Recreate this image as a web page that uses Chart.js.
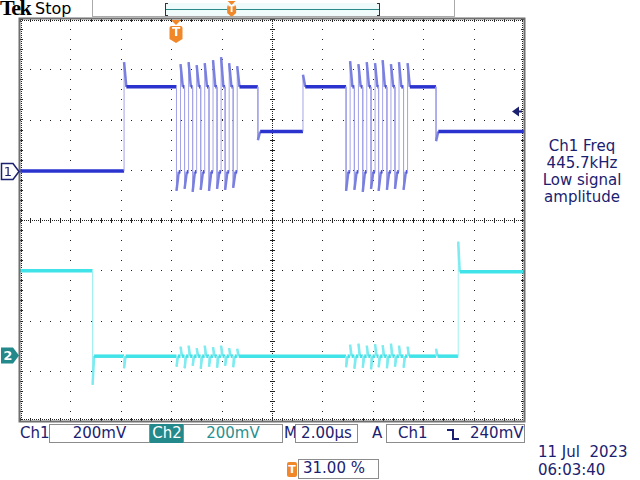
<!DOCTYPE html>
<html>
<head>
<meta charset="utf-8">
<script src="https://cdn.jsdelivr.net/npm/chart.js@4.4.0/dist/chart.umd.min.js"></script>
<style>
  body { margin: 0; width: 640px; height: 480px; overflow: hidden; position: relative; background: #fff; font-family: 'DejaVu Sans', sans-serif; }
  #scope { position: absolute; left: 0; top: 0; z-index: 2; }
  .t { position: absolute; white-space: pre; font-size: 15px; line-height: 19px; color: #1b2170; }
  .box { position: absolute; top: 424px; height: 19px; border: 1px solid #8c8c8c; box-sizing: border-box; }
</style>
</head>
<body>
<canvas id="scope" width="640" height="480"></canvas>

<!-- barre du haut -->
<div class="t" style="left:0;top:-3px;font-family:'Liberation Serif',serif;font-weight:bold;font-size:22px;line-height:22px;letter-spacing:-1.5px;color:#000;">Tek</div>
<div class="t" style="left:35px;top:-1px;font-size:16px;color:#000;">Stop</div>
<div style="position:absolute;left:92px;top:0;width:361px;height:16px;border:1px solid #aaa;border-top:none;"></div>
<div style="position:absolute;left:165px;top:3px;width:215px;height:13px;background:#effbfb;border-left:1px solid #333;border-right:1px solid #333;box-sizing:border-box;"></div>
<div style="position:absolute;left:165px;top:3px;width:3px;height:1px;background:#333;"></div>
<div style="position:absolute;left:165px;top:15px;width:3px;height:1px;background:#333;"></div>
<div style="position:absolute;left:377px;top:3px;width:3px;height:1px;background:#333;"></div>
<div style="position:absolute;left:377px;top:15px;width:3px;height:1px;background:#333;"></div>
<div style="position:absolute;left:166px;top:9px;width:213px;height:1px;background:#2b8a8a;"></div>

<!-- mesure à droite -->
<div class="t" style="left:524px;top:138px;width:116px;text-align:center;line-height:17px;">Ch1 Freq
445.7kHz
Low signal
amplitude</div>

<!-- barre d'état -->
<div class="t" style="left:20px;top:424px;">Ch1</div>
<div class="box" style="left:49px;width:101px;"></div>
<div class="t" style="left:49px;top:424px;width:101px;text-align:center;">200mV</div>
<div class="t" style="left:150px;top:424px;width:34px;height:19px;text-align:center;background:#23898b;color:#fff;">Ch2</div>
<div class="box" style="left:183px;width:100px;"></div>
<div class="t" style="left:183px;top:424px;width:100px;text-align:center;color:#2a9090;">200mV</div>
<div class="t" style="left:284px;top:424px;">M</div>
<div class="box" style="left:295px;width:63px;"></div>
<div class="t" style="left:295px;top:424px;width:63px;text-align:center;">2.00µs</div>
<div class="t" style="left:372px;top:424px;">A</div>
<div class="box" style="left:386px;width:139px;"></div>
<div class="t" style="left:398px;top:424px;">Ch1</div>
<div style="position:absolute;left:447px;top:429px;width:5px;height:9px;border-top:2px solid #1b2170;border-right:2px solid #1b2170;"></div>
<div style="position:absolute;left:454px;top:438px;width:5px;height:2px;background:#1b2170;"></div>
<div class="t" style="left:470px;top:424px;">240mV</div>

<div class="t" style="left:538px;top:443px;">11 Jul  2023</div>
<div class="t" style="left:538px;top:461px;">06:03:40</div>

<div class="t" style="left:287px;top:462px;width:10px;height:15px;line-height:15px;font-size:11px;font-weight:bold;text-align:center;background:#f0882a;color:#fff;border-radius:2px;">T</div>
<div class="box" style="left:298px;top:459px;width:81px;height:20px;"></div>
<div class="t" style="left:303px;top:459px;">31.00 %</div>

<script>
// axe des temps en µs (2 µs/div), axe vertical en divisions
const timeMin = 0;
const timeMax = 20;
const divMin = -4;
const divMax = 4;

// Voie 1 : niveau de départ puis chaque front (instant, pic, niveau stable)
const ch1Start = 0.975;
const ch1EdgeTimes = [4.13,
  6.21, 6.37, 6.53, 6.69, 6.85, 7.01, 7.17, 7.33, 7.50, 7.66, 7.82, 7.98, 8.14, 8.30, 8.46, 8.62,
  9.44, 11.23,
  12.94, 13.10, 13.27, 13.43, 13.60, 13.76, 13.93, 14.09, 14.23, 14.39, 14.56, 14.72, 14.88, 15.04, 15.22, 15.38,
  16.51];
const ch1EdgePeaks = [3.14,
  0.58, 3.10, 0.62, 3.14, 0.56, 3.08, 0.60, 3.12, 0.58, 3.18, 0.62, 3.24, 0.60, 3.12, 0.64, 3.06,
  1.59, 2.89,
  0.58, 3.16, 0.60, 3.10, 0.56, 3.14, 0.62, 3.12, 0.58, 3.18, 0.60, 3.10, 0.62, 3.14, 0.60, 3.12,
  1.57];
const ch1EdgeLevels = [2.65,
  0.96, 2.65, 0.96, 2.65, 0.96, 2.65, 0.96, 2.65, 0.96, 2.65, 0.96, 2.65, 0.96, 2.65, 0.96, 2.65,
  1.76, 2.65,
  0.96, 2.65, 0.96, 2.65, 0.96, 2.65, 0.96, 2.65, 0.96, 2.65, 0.96, 2.65, 0.96, 2.65, 0.96, 2.65,
  1.76];

// Voie 2 : fronts propres + diaphonie pendant les salves de la voie 1
const ch2Start = -1.01;
const ch2EdgeTimes = [2.88, 4.13,
  6.21, 6.37, 6.53, 6.69, 6.85, 7.01, 7.17, 7.33, 7.50, 7.66, 7.82, 7.98, 8.14, 8.30, 8.46, 8.62,
  12.94, 13.10, 13.27, 13.43, 13.60, 13.76, 13.93, 14.09, 14.23, 14.39, 14.56, 14.72, 14.88, 15.04, 15.22, 15.38,
  16.51, 17.39];
const ch2EdgePeaks = [-3.28, -2.95,
  -2.92, -2.52, -2.95, -2.50, -2.90, -2.55, -2.96, -2.50, -2.92, -2.53, -2.94, -2.50, -2.90, -2.55, -2.93, -2.56,
  -2.93, -2.48, -2.96, -2.46, -2.94, -2.50, -2.97, -2.47, -2.93, -2.49, -2.95, -2.46, -2.92, -2.50, -2.94, -2.52,
  -2.56, -0.43];
const ch2EdgeLevels = [-2.71, -2.71,
  -2.71, -2.71, -2.71, -2.71, -2.71, -2.71, -2.71, -2.71, -2.71, -2.71, -2.71, -2.71, -2.71, -2.71, -2.71, -2.71,
  -2.71, -2.71, -2.71, -2.71, -2.71, -2.71, -2.71, -2.71, -2.71, -2.71, -2.71, -2.71, -2.71, -2.71, -2.71, -2.71,
  -2.71, -1.03];

// marqueurs
const ch1Ground = 0.975;
const ch2Ground = -2.69;
const triggerLevelMv = 240;
const voltsPerDivMv = 200;
const triggerPercent = 31;

const NAVY = '#1b2170', ORANGE = '#f0882a', TEAL = '#23898b';

function construireTrace(depart, instants, pics, niveaux, stabilisation) {
  const pts = [{ x: timeMin, y: depart }];
  let avant = depart;
  instants.forEach((t, i) => {
    pts.push({ x: t, y: avant }, { x: t, y: pics[i] }, { x: t + stabilisation, y: niveaux[i] });
    avant = niveaux[i];
  });
  pts.push({ x: timeMax, y: avant });
  return pts;
}

// intensité façon écran : paliers épais, fronts fins et pâles, salves un peu plus claires
function styleTrace(principal, salve, front, anneau) {
  const vertical = c => c.p0.parsed.x === c.p1.parsed.x;
  const palier = c => c.p0.parsed.y === c.p1.parsed.y;
  const court = c => (c.p1.parsed.x - c.p0.parsed.x) < 0.2;
  return {
    borderColor: c => vertical(c) ? front : (!palier(c) ? anneau : (court(c) ? salve : principal)),
    borderWidth: c => vertical(c) ? 1 : (!palier(c) ? 2.5 : 3.5)
  };
}

const cadreScope = {
  id: 'cadreScope',
  beforeDatasetsDraw(chart) {
    const { ctx, chartArea: a, scales: { x, y } } = chart;
    const cx = Math.round(x.getPixelForValue((timeMin + timeMax) / 2));
    const cy = Math.round(y.getPixelForValue(0));
    const pasX = (x.getPixelForValue(2) - x.getPixelForValue(0)) / 5;
    const pasY = (y.getPixelForValue(0) - y.getPixelForValue(1)) / 5;
    ctx.save();
    ctx.fillStyle = '#222';
    // grille pointillée
    x.ticks.forEach(tk => {
      if (tk.value === timeMin || tk.value === timeMax || tk.value === (timeMin + timeMax) / 2) return;
      const px = Math.round(x.getPixelForValue(tk.value));
      for (let py = a.top; py <= a.bottom + 0.5; py += pasY) ctx.fillRect(px, Math.round(py), 1, 1);
    });
    y.ticks.forEach(tk => {
      if (tk.value === divMin || tk.value === divMax || tk.value === 0) return;
      const py = Math.round(y.getPixelForValue(tk.value));
      for (let px = a.left; px <= a.right + 0.5; px += pasX) ctx.fillRect(Math.round(px), py, 1, 1);
    });
    // croix centrale, pointillé serré
    for (let px = a.left; px < a.right; px += 2) ctx.fillRect(px, cy, 1, 1);
    for (let py = a.top; py < a.bottom; py += 2) ctx.fillRect(cx, py, 1, 1);
    for (let px = a.left; px <= a.right + 0.5; px += pasX) ctx.fillRect(Math.round(px), cy - 2, 1, 5);
    for (let py = a.top; py <= a.bottom + 0.5; py += pasY) ctx.fillRect(cx - 2, Math.round(py), 5, 1);
    // graduations du cadre
    for (let px = a.left; px <= a.right + 0.5; px += pasX) {
      ctx.fillRect(Math.round(px), a.top, 1, 3);
      ctx.fillRect(Math.round(px), a.bottom - 3, 1, 3);
    }
    for (let py = a.top; py <= a.bottom + 0.5; py += pasY) {
      ctx.fillRect(a.left, Math.round(py), 3, 1);
      ctx.fillRect(a.right - 3, Math.round(py), 3, 1);
    }
    for (let px = a.left; px < a.right; px += 2) {
      ctx.fillRect(px, a.top + 1, 1, 1);
      ctx.fillRect(px, a.bottom - 2, 1, 1);
    }
    for (let py = a.top; py < a.bottom; py += 2) {
      ctx.fillRect(a.left + 1, py, 1, 1);
      ctx.fillRect(a.right - 2, py, 1, 1);
    }
    ctx.restore();
  },
  afterDraw(chart) {
    const { ctx, chartArea: a, scales: { x, y } } = chart;
    ctx.save();
    ctx.strokeStyle = '#6f6f6f';
    ctx.lineWidth = 2;
    ctx.strokeRect(a.left - 0.5, a.top - 0.5, a.width + 1, a.height + 1);

    // repère de masse voie 1
    let gy = Math.round(y.getPixelForValue(ch1Ground)) + 0.5;
    ctx.beginPath();
    ctx.moveTo(1.5, gy - 8); ctx.lineTo(13, gy - 8); ctx.lineTo(19, gy); ctx.lineTo(13, gy + 8); ctx.lineTo(1.5, gy + 8);
    ctx.closePath();
    ctx.fillStyle = '#fff'; ctx.fill();
    ctx.lineWidth = 1.5; ctx.strokeStyle = NAVY; ctx.stroke();
    ctx.fillStyle = NAVY;
    ctx.font = '13px "DejaVu Sans"';
    ctx.textAlign = 'center'; ctx.textBaseline = 'middle';
    ctx.fillText('1', 8, gy + 1);

    // repère de masse voie 2
    gy = Math.round(y.getPixelForValue(ch2Ground)) + 0.5;
    ctx.beginPath();
    ctx.moveTo(1, gy - 8); ctx.lineTo(13, gy - 8); ctx.lineTo(19, gy); ctx.lineTo(13, gy + 8); ctx.lineTo(1, gy + 8);
    ctx.closePath();
    ctx.fillStyle = TEAL; ctx.fill();
    ctx.fillStyle = '#fff';
    ctx.font = 'bold 13px "DejaVu Sans"';
    ctx.fillText('2', 8, gy + 1);

    // niveau de déclenchement
    const ty = Math.round(y.getPixelForValue(ch1Ground + triggerLevelMv / voltsPerDivMv)) + 0.5;
    ctx.fillStyle = NAVY;
    ctx.beginPath();
    ctx.moveTo(a.right - 12, ty); ctx.lineTo(a.right - 5, ty - 5); ctx.lineTo(a.right - 5, ty + 5);
    ctx.closePath(); ctx.fill();
    ctx.fillRect(a.right - 5, ty - 1, 3, 2);

    // position du déclenchement
    const tx = Math.round(x.getPixelForValue(timeMin + (timeMax - timeMin) * triggerPercent / 100));
    ctx.fillStyle = ORANGE;
    ctx.beginPath();
    ctx.moveTo(tx - 5, a.top + 1); ctx.lineTo(tx + 5, a.top + 1); ctx.lineTo(tx, a.top + 6);
    ctx.closePath(); ctx.fill();
    bouclier(ctx, tx, a.top + 7, 13, 17);
    ctx.fillStyle = '#fff';
    ctx.font = 'bold 12px "DejaVu Sans"';
    ctx.fillText('T', tx, a.top + 14);

    // même repère dans la barre d'enregistrement
    const rx = 165 + 215 * triggerPercent / 100;
    ctx.fillStyle = ORANGE;
    ctx.beginPath();
    ctx.moveTo(rx - 4, 1); ctx.lineTo(rx + 4, 1); ctx.lineTo(rx, 5);
    ctx.closePath(); ctx.fill();
    bouclier(ctx, rx, 5, 9, 12);
    ctx.fillStyle = '#fff';
    ctx.font = 'bold 9px "DejaVu Sans"';
    ctx.fillText('T', rx, 10);
    ctx.restore();
  }
};

function bouclier(ctx, cx, top, w, h) {
  ctx.beginPath();
  ctx.moveTo(cx - w / 2, top + 2);
  ctx.quadraticCurveTo(cx - w / 2, top, cx - w / 2 + 2, top);
  ctx.lineTo(cx + w / 2 - 2, top);
  ctx.quadraticCurveTo(cx + w / 2, top, cx + w / 2, top + 2);
  ctx.lineTo(cx + w / 2, top + h - 4);
  ctx.lineTo(cx, top + h);
  ctx.lineTo(cx - w / 2, top + h - 4);
  ctx.closePath();
  ctx.fill();
}

new Chart(document.getElementById('scope'), {
  type: 'line',
  data: {
    datasets: [
      {
        label: 'Ch1',
        data: construireTrace(ch1Start, ch1EdgeTimes, ch1EdgePeaks, ch1EdgeLevels, 0.09),
        borderColor: '#2b33cf',
        borderWidth: 4,
        pointRadius: 0,
        tension: 0,
        segment: styleTrace('#2b33cf', '#4f55d6', '#a4a4e8', '#7a80de')
      },
      {
        label: 'Ch2',
        data: construireTrace(ch2Start, ch2EdgeTimes, ch2EdgePeaks, ch2EdgeLevels, 0.06),
        borderColor: '#3fe3e8',
        borderWidth: 3.5,
        pointRadius: 0,
        tension: 0,
        segment: styleTrace('#3fe3e8', '#3fe3e8', '#a4f0f2', '#7eebf0')
      }
    ]
  },
  options: {
    responsive: false,
    animation: false,
    devicePixelRatio: 1,
    layout: { padding: { left: 20, top: 19, right: 116, bottom: 59 } },
    plugins: { legend: { display: false }, tooltip: { enabled: false } },
    scales: {
      x: {
        type: 'linear', min: timeMin, max: timeMax,
        ticks: { display: false, stepSize: 2 },
        grid: { display: false },
        border: { display: false },
        afterFit: s => { s.height = 0; }
      },
      y: {
        type: 'linear', min: divMin, max: divMax,
        ticks: { display: false, stepSize: 1 },
        grid: { display: false },
        border: { display: false },
        afterFit: s => { s.width = 0; }
      }
    }
  },
  plugins: [cadreScope]
});
</script>
</body>
</html>
